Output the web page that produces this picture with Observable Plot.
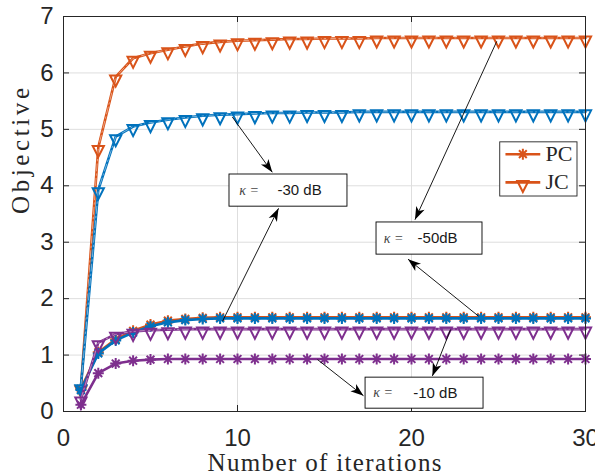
<!DOCTYPE html>
<html>
<head>
<meta charset="utf-8">
<script src="https://cdn.jsdelivr.net/npm/d3@7"></script>
<script src="https://cdn.jsdelivr.net/npm/@observablehq/plot@0.6"></script>
<style>
html,body{margin:0;padding:0;background:#fff;}
#chart svg{display:block;}
</style>
</head>
<body>
<div id="chart"></div>
<script>
// ---------------- data ----------------
const iterations = [1,2,3,4,5,6,7,8,9,10,11,12,13,14,15,16,17,18,19,20,21,22,23,24,25,26,27,28,29,30];

// kappa = -50 dB (orange)
const pcKappa50 = [0.40,1.05,1.28,1.43,1.54,1.61,1.64,1.66,1.67,1.67,1.67,1.67,1.67,1.67,1.67,1.67,1.67,1.67,1.67,1.67,1.67,1.67,1.67,1.67,1.67,1.67,1.67,1.67,1.67,1.67];
const jcKappa50 = [0.42,4.68,5.93,6.26,6.35,6.41,6.47,6.52,6.55,6.57,6.58,6.59,6.60,6.60,6.61,6.61,6.61,6.62,6.62,6.62,6.62,6.62,6.62,6.62,6.62,6.62,6.62,6.62,6.62,6.62];
// kappa = -30 dB (blue)
const pcKappa30 = [0.38,1.03,1.26,1.40,1.51,1.58,1.62,1.64,1.65,1.65,1.65,1.65,1.65,1.65,1.65,1.65,1.65,1.65,1.65,1.65,1.65,1.65,1.65,1.65,1.65,1.65,1.65,1.65,1.65,1.65];
const jcKappa30 = [0.44,3.93,4.87,5.05,5.12,5.17,5.21,5.24,5.26,5.27,5.28,5.29,5.29,5.30,5.30,5.30,5.31,5.31,5.31,5.31,5.31,5.31,5.31,5.31,5.31,5.31,5.31,5.31,5.31,5.31];
// kappa = -10 dB (purple)
const pcKappa10 = [0.12,0.68,0.85,0.90,0.92,0.93,0.93,0.93,0.93,0.93,0.93,0.93,0.93,0.93,0.93,0.93,0.93,0.93,0.93,0.93,0.93,0.93,0.93,0.93,0.93,0.93,0.93,0.93,0.93,0.93];
const jcKappa10 = [0.22,1.22,1.37,1.42,1.44,1.45,1.46,1.46,1.46,1.46,1.46,1.46,1.46,1.46,1.46,1.46,1.46,1.46,1.46,1.46,1.46,1.46,1.46,1.46,1.46,1.46,1.46,1.46,1.46,1.46];

const xTicks = [0,10,20,30];
const yTicks = [0,1,2,3,4,5,6,7];
const xLabel = "Number of iterations";
const yLabel = "Objective";
const legendLabels = ["PC","JC"];
const kappaText = "\u03BA =";
const annotationValues = ["-30 dB","-50dB","-10 dB"];

// annotation anchors (data coordinates)
const boxX1 = [9.54, 17.99, 17.36];
const boxX2 = [16.32, 24.08, 24.14];
const boxY1 = [3.63, 2.78, 0.05];
const boxY2 = [4.20, 3.35, 0.60];
const kappaX = [10.1, 18.4, 17.8];
const valueX = [12.3, 20.35, 20.1];
const labelY = [3.92, 3.07, 0.33];

const arrowFromX = [9.70, 9.14, 24.9, 23.85, 14.6, 22.24];
const arrowFromY = [5.22, 1.60, 6.56, 1.69, 0.92, 1.45];
const arrowToX   = [12.0, 12.36, 20.2, 19.8, 17.24, 21.2];
const arrowToY   = [4.24, 3.60, 3.40, 2.70, 0.28, 0.63];

// ---------------- layout / style ----------------
const W = 595, H = 476, ML = 63, MR = 10, MT = 16, MB = 65;
const xDomain = [0,30], yDomain = [0,7];
const kx = (W - ML - MR) / (xDomain[1] - xDomain[0]);
const ky = (H - MT - MB) / (yDomain[1] - yDomain[0]);
const colors = {orange: "#D95319", blue: "#0072BD", purple: "#7E2F8E"};
const tickColor = "#262626";

const asteriskSymbol = {draw(ctx) {
  const r = 5.5, d = r * Math.SQRT1_2;
  ctx.moveTo(-r, 0); ctx.lineTo(r, 0);
  ctx.moveTo(0, -r); ctx.lineTo(0, r);
  ctx.moveTo(-d, -d); ctx.lineTo(d, d);
  ctx.moveTo(-d, d); ctx.lineTo(d, -d);
}};
const triangleDown = {draw(ctx) {
  ctx.moveTo(-5.6, -1.5); ctx.lineTo(5.6, -1.5); ctx.lineTo(0, 9.6); ctx.closePath();
}};
const arrowHead = {draw(ctx) {
  ctx.moveTo(0, 0); ctx.lineTo(4.6, 13); ctx.lineTo(0, 9.5); ctx.lineTo(-4.6, 13); ctx.closePath();
}};

const series = [
  {values: pcKappa50, color: colors.orange, kind: "PC"},
  {values: jcKappa50, color: colors.orange, kind: "JC"},
  {values: pcKappa30, color: colors.blue, kind: "PC"},
  {values: jcKappa30, color: colors.blue, kind: "JC"},
  {values: pcKappa10, color: colors.purple, kind: "PC"},
  {values: jcKappa10, color: colors.purple, kind: "JC"}
];

const seriesMarks = [];
for (const s of series) {
  const pts = iterations.map((it, i) => ({it, v: s.values[i]}));
  seriesMarks.push(Plot.line(pts, {x: "it", y: "v", stroke: s.color, strokeWidth: 2.6}));
  if (s.kind === "JC") {
    seriesMarks.push(Plot.line(pts, {x: "it", y: "v", stroke: "white", strokeOpacity: 0.5, strokeWidth: 0.9, strokeDasharray: "7,3,1.5,3"}));
  }
  seriesMarks.push(Plot.dot(pts, {x: "it", y: "v", r: 6, symbol: s.kind === "PC" ? asteriskSymbol : triangleDown,
    stroke: s.color, strokeWidth: 2, fill: "none"}));
}

const annotations = annotationValues.map((t, i) => ({
  text: t, x1: boxX1[i], x2: boxX2[i], y1: boxY1[i], y2: boxY2[i], kx: kappaX[i], vx: valueX[i], ly: labelY[i]
}));
const arrows = arrowFromX.map((x, i) => {
  const dx = (arrowToX[i] - x) * kx;
  const dy = -(arrowToY[i] - arrowFromY[i]) * ky;
  return {x1: x, y1: arrowFromY[i], x2: arrowToX[i], y2: arrowToY[i], angle: Math.atan2(dx, -dy) * 180 / Math.PI};
});

// legend (placed in data coordinates, upper right)
const legendBox = [{x1: 25.1, x2: 29.54, y1: 3.81, y2: 4.77}];
const legendRows = legendLabels.map((t, i) => ({label: t, y: [4.56, 4.06][i], xa: 25.4, xb: 27.4, xm: 26.4, xt: 27.7}));

const chart = Plot.plot({
  width: W, height: H,
  marginLeft: ML, marginRight: MR, marginTop: MT, marginBottom: MB,
  x: {domain: xDomain},
  y: {domain: yDomain},
  style: {background: "white", fontFamily: "'Liberation Sans', Arial, sans-serif"},
  marks: [
    Plot.gridX(xTicks, {stroke: "#dedede", strokeOpacity: 1, strokeWidth: 1}),
    Plot.gridY(yTicks, {stroke: "#dedede", strokeOpacity: 1, strokeWidth: 1}),
    Plot.axisX(xTicks, {tickSize: 0, tickPadding: 17, fontSize: 24, color: tickColor, label: null, tickFormat: d => String(d)}),
    Plot.axisY(yTicks, {tickSize: 0, tickPadding: 10, fontSize: 24, color: tickColor, label: null, tickFormat: d => String(d)}),
    // inward ticks
    Plot.ruleY(yTicks, {stroke: tickColor, insetRight: W - ML - MR - 6}),
    Plot.ruleY(yTicks, {stroke: tickColor, insetLeft: W - ML - MR - 6}),
    Plot.ruleX(xTicks, {stroke: tickColor, insetTop: H - MT - MB - 6}),
    Plot.ruleX(xTicks, {stroke: tickColor, insetBottom: H - MT - MB - 6}),
    ...seriesMarks,
    // annotations
    Plot.link(arrows, {x1: "x1", y1: "y1", x2: "x2", y2: "y2", stroke: "black", strokeWidth: 0.9}),
    Plot.dot(arrows, {x: "x2", y: "y2", symbol: arrowHead, rotate: "angle", fill: "black", stroke: "none", r: 6}),
    Plot.rect(annotations, {x1: "x1", x2: "x2", y1: "y1", y2: "y2", fill: "white", stroke: "black", strokeWidth: 0.9}),
    Plot.text(annotations, {x: "kx", y: "ly", text: () => kappaText, textAnchor: "start", fontSize: 14,
      fontFamily: "'Liberation Serif', serif", fontStyle: "italic", fill: "#444"}),
    Plot.text(annotations, {x: "vx", y: "ly", text: "text", textAnchor: "start", fontSize: 15, fill: "#1a1a1a"}),
    // legend
    Plot.rect(legendBox, {x1: "x1", x2: "x2", y1: "y1", y2: "y2", fill: "white", stroke: "#222", strokeWidth: 0.9}),
    Plot.link(legendRows, {x1: "xa", x2: "xb", y1: "y", y2: "y", stroke: colors.orange, strokeWidth: 2.6}),
    Plot.dot(legendRows.filter(d => d.label === "PC"), {x: "xm", y: "y", r: 6, symbol: asteriskSymbol, stroke: colors.orange, strokeWidth: 2, fill: "none"}),
    Plot.dot(legendRows.filter(d => d.label === "JC"), {x: "xm", y: "y", r: 6, symbol: triangleDown, stroke: colors.orange, strokeWidth: 2, fill: "none"}),
    Plot.text(legendRows, {x: "xt", y: "y", text: "label", textAnchor: "start", fontSize: 22,
      fontFamily: "'Liberation Serif', serif", fill: tickColor}),
    // axis labels
    Plot.text([xLabel], {frameAnchor: "bottom", dy: 59, text: d => d, fontSize: 25,
      fontFamily: "'Liberation Serif', serif", fill: tickColor}),
    Plot.text([yLabel], {frameAnchor: "left", dx: -43, rotate: -90, text: d => d, fontSize: 25,
      fontFamily: "'Liberation Serif', serif", fill: tickColor}),
    Plot.frame({stroke: tickColor, strokeWidth: 1})
  ]
});

d3.select(chart).selectAll("text").each(function() {
  const t = this.textContent;
  if (t === yLabel) { this.setAttribute("textLength", "126"); this.setAttribute("lengthAdjust", "spacing"); }
  if (t === xLabel) { this.setAttribute("textLength", "234"); this.setAttribute("lengthAdjust", "spacing"); }
});

document.getElementById("chart").appendChild(chart);
</script>
</body>
</html>
